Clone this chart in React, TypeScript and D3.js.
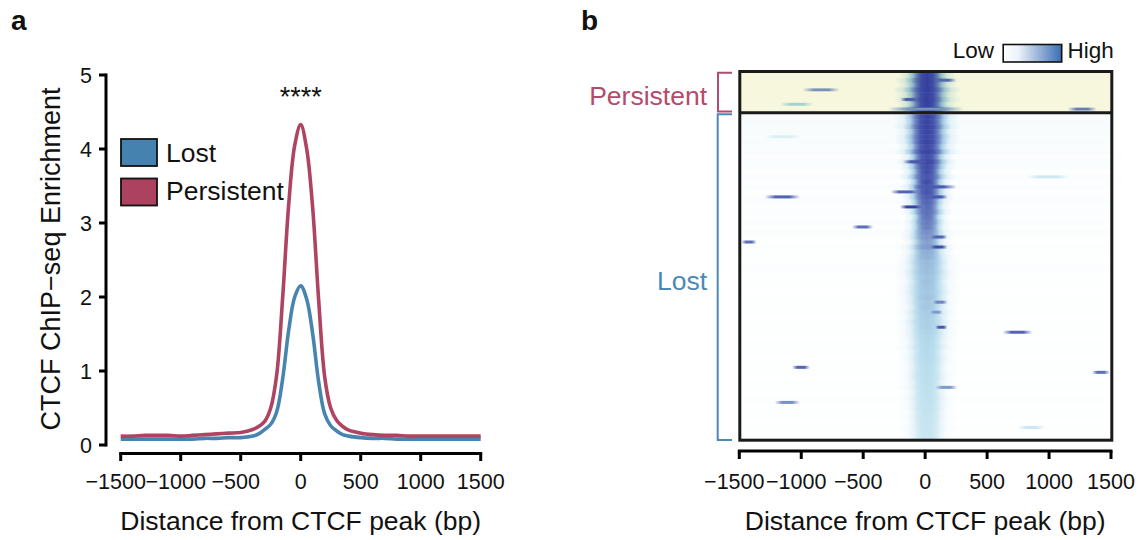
import React, { useEffect } from "react";
import * as d3 from "d3";

// ---------- Panel a data ----------
const positions = [-1500,-1400,-1300,-1200,-1100,-1000,-900,-800,-700,-600,-500,-400,-350,-300,-250,-200,-150,-100,-50,0,50,100,150,200,250,300,350,400,500,600,700,800,900,1000,1100,1200,1300,1400,1500];
const persistentValues = [0.12,0.12,0.13,0.13,0.13,0.12,0.13,0.14,0.15,0.16,0.17,0.21,0.25,0.32,0.5,0.95,2.0,3.25,4.05,4.33,4.0,3.2,1.95,0.92,0.5,0.33,0.25,0.2,0.16,0.14,0.13,0.13,0.12,0.12,0.12,0.12,0.12,0.12,0.12];
const lostValues = [0.08,0.08,0.08,0.08,0.08,0.08,0.08,0.09,0.09,0.1,0.1,0.12,0.15,0.21,0.28,0.45,0.9,1.55,2.0,2.15,1.97,1.5,0.85,0.42,0.26,0.19,0.14,0.12,0.1,0.09,0.09,0.08,0.08,0.08,0.08,0.08,0.08,0.08,0.08];
const xTicks = [-1500,-1000,-500,0,500,1000,1500];
const yTicks = [0,1,2,3,4,5];
const seriesNames = ["Lost","Persistent"];

// ---------- Panel b data ----------
const profileBp = [-200,-140,-100,-70,-40,0,40,70,100,140,200];
const profileVal = [0,0.12,0.38,0.72,0.93,1,0.93,0.72,0.38,0.12,0];
const lostRowPeak = [1.0,1.0,1.0,1.0,0.98,1.0, 0.97,1.0,0.95,1.0,0.96, 0.95,0.92,0.96,0.9,0.93,0.88, 0.85,0.82,0.8,0.78,0.74,0.72, 0.66,0.62,0.58,0.6,0.52,0.5, 0.46,0.45,0.44,0.42,0.43,0.41,0.4,0.42,0.39,0.4,0.38,0.37,0.36,0.36,0.34, 0.33,0.32,0.31,0.31,0.3,0.3,0.29,0.29,0.28,0.28,0.27,0.27,0.26,0.26,0.25,0.25,0.24,0.24,0.23,0.23,0.22];
const lostRowWidth = [1.35,1.3,1.4,1.25,1.35,1.3, 1.2,1.35,1.1,1.25,1.15, 1.05,1.2,1.0,1.15,1.05,1.1, 1.0,0.95,1.05,0.9,1.0,0.95, 1.05,1.1,1.0,1.15,1.1,1.2, 1.3,1.25,1.35,1.3,1.2,1.3,1.35,1.25,1.3,1.2,1.3,1.25,1.35,1.25,1.3, 1.25,1.2,1.3,1.15,1.25,1.2,1.15,1.2,1.25,1.15,1.2,1.1,1.2,1.15,1.2,1.1,1.15,1.1,1.15,1.1,1.1];
const lostRowHaze = [0.03,0.035,0.025,0.03,0.02,0.03,0.02,0.025,0.015,0.02, 0.02,0.01,0.02,0.015,0.02,0.01,0.015,0.02,0.01,0.015, 0.008,0.015,0.01,0.02,0.008,0.01,0.015,0.008,0.01,0.008, 0.015,0.008,0.01,0.008,0.01,0.004,0.01,0.008,0.008,0.01, 0.004,0.008,0.01,0.008,0.004,0.008,0.01,0.008,0.004,0.008, 0.008,0.01,0.004,0.008,0.008,0.004,0.01,0.008,0.004,0.008, 0.008,0.004,0.008,0.004,0.008];
// streaks: [row, startBp, endBp, strength]
const lostStreaks = [
  [4,-1300,-1000,0.15],[9,-180,40,0.9],[12,820,1165,0.2],[14,-100,255,0.9],[15,-280,-40,0.85],
  [16,-1295,-1010,0.85],[16,13,182,0.9],[18,-205,-20,1.0],[22,-590,-420,0.8],[24,40,180,0.85],
  [25,-1490,-1360,0.8],[26,40,180,0.95],[37,60,180,0.7],[39,40,140,0.6],[42,80,180,0.9],
  [43,625,865,0.85],[50,-1075,-930,0.85],[51,1345,1490,0.8],[54,80,260,0.6],[57,-1215,-1010,0.65],[62,750,965,0.2]
];
const persistentRowPeak = [1,1,1,1,1,1,1,1];
const persistentRowWidth = [1.15,1.3,1.2,1.4,1.25,1.35,1.2,1.5];
const persistentStreaks = [
  [1,60,250,0.8],[3,-990,-690,0.6],[5,-200,-50,0.85],[6,-1170,-905,0.3],[7,1150,1385,0.7],[7,-300,300,0.6]
];
const legendLabels = ["Low","High"];

const FONT = "'Liberation Sans', Arial, Helvetica, sans-serif";
const LOST_COL = "#4884B0";
const PERS_COL = "#AF4462";
const LOST_TXT = "#4B89B6";
const PERS_TXT = "#B34B6C";

function fmt(v: number) {
  return v < 0 ? "\u2212" + Math.abs(v) : String(v);
}

export default function App() {
  useEffect(() => {
    document.body.style.margin = "0";
  }, []);

  // Panel a scales
  const xa = d3.scaleLinear().domain([-1500, 1500]).range([120.7, 480.7]);
  const ya = d3.scaleLinear().domain([0, 5]).range([445, 75]);
  const line = d3
    .line<number>()
    .x((_, i) => xa(positions[i]))
    .y((d) => ya(d))
    .curve(d3.curveCatmullRom.alpha(0.5));

  // Panel b scales
  const xb = d3.scaleLinear().domain([-1500, 1500]).range([739.3, 1111]);
  const lostBand = d3.scaleBand<number>().domain(d3.range(lostRowPeak.length)).range([114.2, 440]);
  const persBand = d3.scaleBand<number>().domain(d3.range(persistentRowPeak.length)).range([73, 111.5]);
  const lostColor = d3.scaleLinear<string>().domain([0, 0.3, 1]).range(["#ffffff", "#b6dcec", "#3843a3"]).clamp(true);
  const persColor = d3.scaleLinear<string>().domain([0, 0.3, 1]).range(["#f6f7dc", "#a5d1cf", "#343f9f"]).clamp(true);
  const center = 15;

  const rowStops = (peak: number, w: number, haze: number) => {
    const pts: { bp: number; v: number }[] = [{ bp: -1500, v: haze }];
    profileBp.forEach((b, i) => {
      pts.push({ bp: center + b * w, v: Math.max(haze, peak * profileVal[i]) });
    });
    pts.push({ bp: 1500, v: haze });
    return pts;
  };

  const innerL = 741.3;
  const innerR = 1110.3;

  const renderRows = (
    prefix: string,
    peaks: number[],
    widths: number[],
    hazes: number[] | null,
    band: d3.ScaleBand<number>,
    color: d3.ScaleLinear<string, string>
  ) => {
    const defs: React.ReactNode[] = [];
    const rects: React.ReactNode[] = [];
    peaks.forEach((p, r) => {
      const haze = hazes ? hazes[r] ?? 0 : 0;
      const stops = rowStops(p, widths[r] ?? 1, haze);
      const id = `${prefix}-row-${r}`;
      defs.push(
        <linearGradient key={id} id={id} gradientUnits="userSpaceOnUse" x1={xb(-1500)} x2={xb(1500)} y1={0} y2={0}>
          {stops.map((s, k) => (
            <stop key={k} offset={(s.bp + 1500) / 3000} stopColor={color(s.v)} />
          ))}
        </linearGradient>
      );
      rects.push(
        <rect key={id} x={innerL} width={innerR - innerL} y={band(r)!} height={band.bandwidth() + 0.6} fill={`url(#${id})`} />
      );
    });
    return { defs, rects };
  };

  const renderStreaks = (
    prefix: string,
    streaks: number[][],
    band: d3.ScaleBand<number>,
    color: d3.ScaleLinear<string, string>
  ) => {
    const defs: React.ReactNode[] = [];
    const rects: React.ReactNode[] = [];
    streaks.forEach((s, i) => {
      const [row, a, b, v] = s;
      const id = `${prefix}-streak-${i}`;
      const c = color(v);
      defs.push(
        <linearGradient key={id} id={id} x1="0" x2="1" y1="0" y2="0">
          <stop offset="0" stopColor={c} stopOpacity={0} />
          <stop offset="0.3" stopColor={c} stopOpacity={1} />
          <stop offset="0.7" stopColor={c} stopOpacity={1} />
          <stop offset="1" stopColor={c} stopOpacity={0} />
        </linearGradient>
      );
      const x0 = Math.max(innerL, xb(a));
      const x1 = Math.min(innerR, xb(b));
      rects.push(
        <rect key={id} x={x0} width={x1 - x0} y={band(row)! + band.bandwidth() * 0.2} height={band.bandwidth() * 0.6} fill={`url(#${id})`} />
      );
    });
    return { defs, rects };
  };

  const lostRows = renderRows("lost", lostRowPeak, lostRowWidth, lostRowHaze, lostBand, lostColor);
  const persRows = renderRows("pers", persistentRowPeak, persistentRowWidth, null, persBand, persColor);
  const lostStr = renderStreaks("lost", lostStreaks, lostBand, lostColor);
  const persStr = renderStreaks("pers", persistentStreaks, persBand, persColor);

  const axisStroke = "#000";

  return (
    <svg width={1144} height={540} style={{ display: "block", fontFamily: FONT }}>
      <defs>
        {lostRows.defs}
        {persRows.defs}
        {lostStr.defs}
        {persStr.defs}
        <linearGradient id="legendGrad" x1="0" x2="1" y1="0" y2="0">
          <stop offset="0" stopColor="#ffffff" />
          <stop offset="0.25" stopColor="#eef3fa" />
          <stop offset="1" stopColor="#3b6db4" />
        </linearGradient>
      </defs>
      <rect x={0} y={0} width={1144} height={540} fill="#fff" />

      {/* ===== Panel a ===== */}
      <text x={11} y={30} fontSize={28} fontWeight="bold" fill="#111">a</text>

      {/* y axis */}
      <line x1={106} x2={106} y1={ya(0)} y2={ya(5)} stroke={axisStroke} strokeWidth={3} strokeLinecap="square" />
      {yTicks.map((t) => (
        <g key={t}>
          <line x1={99} x2={106} y1={ya(t)} y2={ya(t)} stroke={axisStroke} strokeWidth={3} />
          <text x={92} y={ya(t)} dy="0.36em" textAnchor="end" fontSize={21.5} fill="#111">{t}</text>
        </g>
      ))}
      <text transform={`translate(60,259) rotate(-90)`} textAnchor="middle" fontSize={27} fill="#111">
        CTCF ChIP{"\u2212"}seq Enrichment
      </text>

      {/* x axis */}
      <line x1={xa(-1500)} x2={xa(1500)} y1={453.5} y2={453.5} stroke={axisStroke} strokeWidth={3} strokeLinecap="square" />
      {xTicks.map((t) => (
        <g key={t}>
          <line x1={xa(t)} x2={xa(t)} y1={453.5} y2={461} stroke={axisStroke} strokeWidth={3} />
          <text x={xa(t) + (t < 0 ? -5 : 0)} y={488.5} textAnchor="middle" fontSize={21.5} fill="#111">{fmt(t)}</text>
        </g>
      ))}
      <text x={(xa(-1500) + xa(1500)) / 2} y={530} textAnchor="middle" fontSize={26.5} fill="#111">
        Distance from CTCF peak (bp)
      </text>

      {/* lines */}
      <path d={line(lostValues) ?? ""} fill="none" stroke={LOST_COL} strokeWidth={3.6} strokeLinejoin="round" />
      <path d={line(persistentValues) ?? ""} fill="none" stroke={PERS_COL} strokeWidth={3.6} strokeLinejoin="round" />

      <text x={xa(0)} y={106} textAnchor="middle" fontSize={27} fill="#111">****</text>

      {/* legend */}
      {seriesNames.map((n, i) => (
        <g key={n}>
          <rect x={121} y={139 + i * 39.5} width={36} height={27} fill={i === 0 ? "#4682AF" : "#AD4260"} stroke="#111" strokeWidth={1.8} />
          <text x={166} y={161.7 + i * 38.5} fontSize={26.5} fill="#111">{n}</text>
        </g>
      ))}

      {/* ===== Panel b ===== */}
      <text x={581} y={30} fontSize={28} fontWeight="bold" fill="#111">b</text>

      {/* heatmap background */}
      <rect x={innerL} y={72} width={innerR - innerL} height={41} fill="#f6f7dc" />
      <rect x={innerL} y={113} width={innerR - innerL} height={328} fill="#ffffff" />
      {persRows.rects}
      {persStr.rects}
      {lostRows.rects}
      {lostStr.rects}

      {/* frame */}
      <rect x={739.8} y={71.5} width={372} height={368.7} fill="none" stroke="#1a1a1a" strokeWidth={3} />
      <line x1={739.8} x2={1111.8} y1={112.8} y2={112.8} stroke="#1a1a1a" strokeWidth={3} />

      {/* brackets */}
      <path d={`M732,72.7 H718 V111.5 H732`} fill="none" stroke={PERS_TXT} strokeWidth={2} />
      <path d={`M732,114.3 H717.7 V440 H732`} fill="none" stroke={LOST_TXT} strokeWidth={2} />
      <text x={707} y={105} textAnchor="end" fontSize={26.5} fill={PERS_TXT}>Persistent</text>
      <text x={707} y={290} textAnchor="end" fontSize={26.5} fill={LOST_TXT}>Lost</text>

      {/* color legend */}
      <text x={994} y={58.3} textAnchor="end" fontSize={22.5} fill="#111">{legendLabels[0]}</text>
      <rect x={1003.2} y={44.5} width={58.5} height={17.5} fill="url(#legendGrad)" stroke="#111" strokeWidth={1.6} />
      <text x={1067.5} y={58.3} fontSize={22.5} fill="#111">{legendLabels[1]}</text>

      {/* x axis b */}
      <line x1={xb(-1500)} x2={xb(1500)} y1={451} y2={451} stroke={axisStroke} strokeWidth={3} strokeLinecap="square" />
      {xTicks.map((t) => (
        <g key={t}>
          <line x1={xb(t)} x2={xb(t)} y1={451} y2={459} stroke={axisStroke} strokeWidth={3} />
          <text x={xb(t) + (t < 0 ? -5 : 0)} y={488.5} textAnchor="middle" fontSize={21.5} fill="#111">{fmt(t)}</text>
        </g>
      ))}
      <text x={(xb(-1500) + xb(1500)) / 2} y={530} textAnchor="middle" fontSize={26.5} fill="#111">
        Distance from CTCF peak (bp)
      </text>
    </svg>
  );
}
